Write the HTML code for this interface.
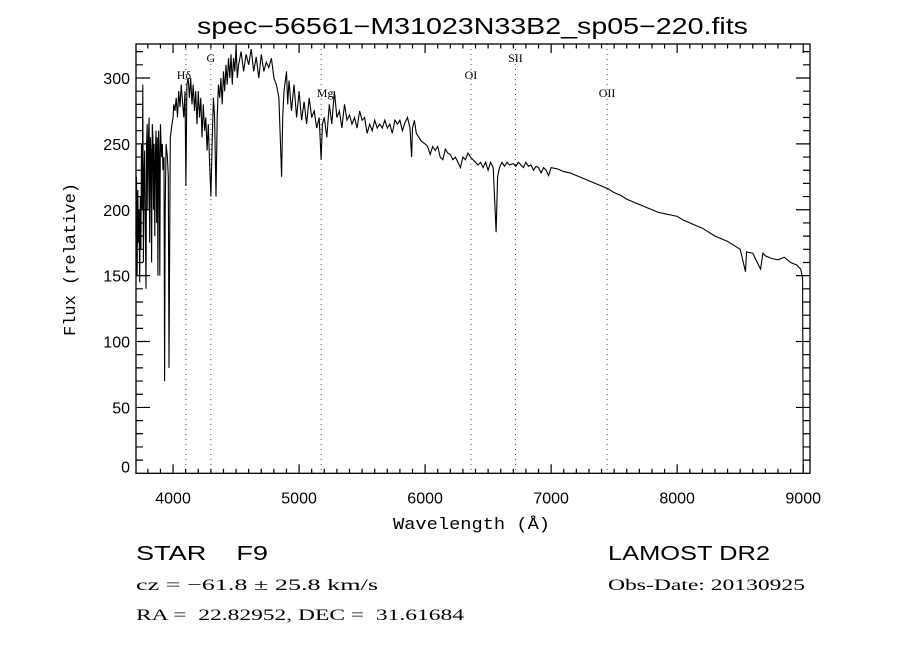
<!DOCTYPE html>
<html><head><meta charset="utf-8"><style>
html,body{margin:0;padding:0;background:#fff;}
svg{display:block;}
</style></head><body>
<svg id="chart" width="900" height="650" viewBox="0 0 900 650" xmlns="http://www.w3.org/2000/svg">
<rect width="900" height="650" fill="#fff"/>
<text x="197" y="34" textLength="551" lengthAdjust="spacingAndGlyphs" font-family="Liberation Sans, sans-serif" font-size="23">spec−56561−M31023N33B2_sp05−220.fits</text>
<g id="lines"></g>
<g id="axes"></g>
<path id="spec" fill="none" stroke="#000" stroke-width="1.1"/>
<text x="393" y="529" textLength="157" lengthAdjust="spacingAndGlyphs" font-family="Liberation Mono, monospace" font-size="17">Wavelength (Å)</text>
<text transform="translate(75,336) rotate(-90)" textLength="153" lengthAdjust="spacingAndGlyphs" font-family="Liberation Mono, monospace" font-size="17">Flux (relative)</text>
<text x="136" y="560" textLength="132" lengthAdjust="spacingAndGlyphs" font-family="Liberation Sans, sans-serif" font-size="20" xml:space="preserve">STAR    F9</text>
<text x="608" y="560" textLength="162" lengthAdjust="spacingAndGlyphs" font-family="Liberation Sans, sans-serif" font-size="20">LAMOST DR2</text>
<text x="136" y="590" textLength="242" lengthAdjust="spacingAndGlyphs" font-family="Liberation Serif, serif" font-size="16">cz = −61.8 ± 25.8 km/s</text>
<text x="608" y="590" textLength="197" lengthAdjust="spacingAndGlyphs" font-family="Liberation Serif, serif" font-size="16">Obs-Date: 20130925</text>
<text x="136" y="620" textLength="328" lengthAdjust="spacingAndGlyphs" font-family="Liberation Serif, serif" font-size="16" xml:space="preserve">RA =  22.82952, DEC =  31.61684</text>
</svg>
<script>
const wave = [3705,3710,3715,3720,3725,3730,3735,3740,3745,3750,3755,3760,3765,3770,3775,3780,3785,3790,3795,3800,3805,3810,3815,3820,3825,3830,3835,3840,3845,3850,3855,3860,3865,3870,3875,3880,3885,3890,3895,3900,3905,3910,3915,3920,3928,3933,3938,3945,3955,3962,3968,3972,3978,3985,3992,4000,
4005,4015,4025,4035,4045,4055,4065,4075,4085,4095,4102,4110,4120,4130,4140,4150,4160,4170,4180,4190,4200,4210,4220,4230,4240,4250,4260,4270,4280,4290,4300,4310,4320,4330,4341,4350,4360,4370,4380,4390,4400,4410,4420,4430,4440,4450,4460,4470,4480,4490,4500,4510,4520,4540,4560,4580,4600,4620,4640,4660,4680,4700,4720,4740,4760,4780,4800,4820,4840,4861,4870,4880,4900,4910,4920,4940,4960,4980,5000,5020,5040,5060,5080,5100,5120,5140,5160,5175,5185,5200,5220,5240,5260,5280,5300,5320,5340,5360,5380,5400,5420,5440,5460,5480,5500,5520,5540,5560,5580,5600,5620,5640,5660,5680,5700,5720,5740,5760,5780,5800,5820,5840,5860,5880,5893,5900,5915,5930,5950,5970,6000,6020,6040,6060,6080,6100,6120,6140,6160,6180,6200,6220,6240,6260,6280,6300,6320,6340,6360,6380,6400,6420,6440,6460,6480,6500,6520,6540,6563,6575,6590,6610,6630,6650,6670,6700,6720,6740,6760,6780,6800,6820,6840,6860,6880,6900,6920,6940,6960,6980,7000,7050,7100,7150,7200,7250,7300,7350,7400,7450,7500,7550,7600,7650,7700,7750,7800,7850,7900,7950,8000,8050,8100,8150,8200,8250,8300,8350,8400,8450,8500,8542,8550,8600,8620,8662,8680,8700,8750,8800,8850,8900,8950,8980,8995,9000];
const flux = [180,225,150,215,175,200,145,210,170,250,200,295,160,230,245,190,140,250,265,200,255,270,175,255,245,160,265,255,200,250,180,240,260,190,255,150,260,240,150,265,250,240,250,230,240,70,200,250,240,225,80,150,255,260,265,270,
280,275,285,270,290,278,295,282,270,290,218,295,300,285,300,280,295,275,290,265,290,270,285,255,280,260,270,245,265,235,210,250,285,270,210,270,295,285,300,280,305,290,310,295,315,300,318,295,315,305,325,300,310,320,305,318,310,322,305,316,300,318,305,312,308,315,300,295,285,225,270,290,305,280,298,275,295,270,290,268,282,265,285,270,275,262,270,238,265,270,255,280,265,290,270,275,262,280,268,272,265,270,262,275,268,270,258,265,260,268,262,265,262,268,262,265,258,268,265,268,260,266,270,262,240,262,268,258,255,252,250,248,242,248,245,248,240,238,246,243,242,238,240,236,232,240,238,243,240,238,236,234,236,232,236,230,236,232,183,225,232,236,233,236,234,235,233,236,234,232,236,233,234,230,233,232,228,232,230,226,232,231,229,228,226,224,222,220,218,216,213,211,208,206,204,202,200,198,197,196,195,192,190,188,186,183,180,178,176,173,170,153,168,167,163,155,167,165,163,162,164,160,158,155,148,0];
const xTickLabels = [4000,5000,6000,7000,8000,9000];
const yTickLabels = [0,50,100,150,200,250,300];
const lineNames = ['Hδ','G','Mg','OI','SII','OII'];
const lineWaves = [4102,4300,5175,6364,6717,7444];

const L=136,R=810,T=44,B=473.3, X0=3706,X1=9054, Y0=0,Y1=325.8;
const xs = w => L+(w-X0)/(X1-X0)*(R-L);
const ys = f => B-(f-Y0)/(Y1-Y0)*(B-T);
const NS='http://www.w3.org/2000/svg';
function mk(tag,parent){const e=document.createElementNS(NS,tag);parent.appendChild(e);return e;}

let d='';
for(let i=0;i<wave.length;i++){d+=(i?'L':'M')+xs(wave[i]).toFixed(1)+' '+Math.max(T,ys(flux[i])).toFixed(1);}
document.getElementById('spec').setAttribute('d',d);

const lg=document.getElementById('lines');
const labDx=[-2,0,4,0,0,0];
const labY=[79,62,97,79,62,97];
lineWaves.forEach((w,i)=>{
  const x=xs(w);
  const ln=mk('line',lg);
  
  
  ln.setAttribute('x1',x);ln.setAttribute('x2',x);ln.setAttribute('y1',T);ln.setAttribute('y2',B);
  ln.setAttribute('stroke','#8b2a2a');ln.setAttribute('stroke-width','1');ln.setAttribute('stroke-dasharray','1 4');
  const t=mk('text',lg);
  
  
  t.setAttribute('x',x+labDx[i]);t.setAttribute('y',labY[i]);
  t.setAttribute('text-anchor','middle');t.setAttribute('font-family','Liberation Serif, serif');t.setAttribute('font-size','12');
  t.textContent=lineNames[i];
});

const ag=document.getElementById('axes');
const box=mk('rect',ag);


box.setAttribute('x',L);box.setAttribute('y',T);box.setAttribute('width',R-L);box.setAttribute('height',B-T);
box.setAttribute('fill','none');box.setAttribute('stroke','#000');box.setAttribute('stroke-width','1.3');
let td='';
for(let w=3800;w<=9000;w+=100){const x=xs(w);const len=(w%1000===0)?9:4.5;td+=`M${x} ${B}V${B-len}M${x} ${T}V${T+len}`;}
for(let f=10;f<=320;f+=10){const y=ys(f);const len=(f%50===0)?14:7;td+=`M${L} ${y}H${L+len}M${R} ${y}H${R-len}`;}
const tp=mk('path',ag);


tp.setAttribute('d',td);tp.setAttribute('stroke','#000');tp.setAttribute('stroke-width','1.2');
xTickLabels.forEach(v=>{
  const t=mk('text',ag);
  
  
  t.setAttribute('x',xs(v));t.setAttribute('y',B+30);t.setAttribute('text-anchor','middle');
  t.setAttribute('font-family','Liberation Sans, sans-serif');t.setAttribute('font-size','16');
  t.textContent=v;
});
yTickLabels.forEach(v=>{
  const t=mk('text',ag);
  
  
  t.setAttribute('x',L-6);t.setAttribute('y',(v===0?ys(v)-1:ys(v)+6));t.setAttribute('text-anchor','end');
  t.setAttribute('font-family','Liberation Sans, sans-serif');t.setAttribute('font-size','16');
  t.textContent=v;
});
</script>
</body></html>
